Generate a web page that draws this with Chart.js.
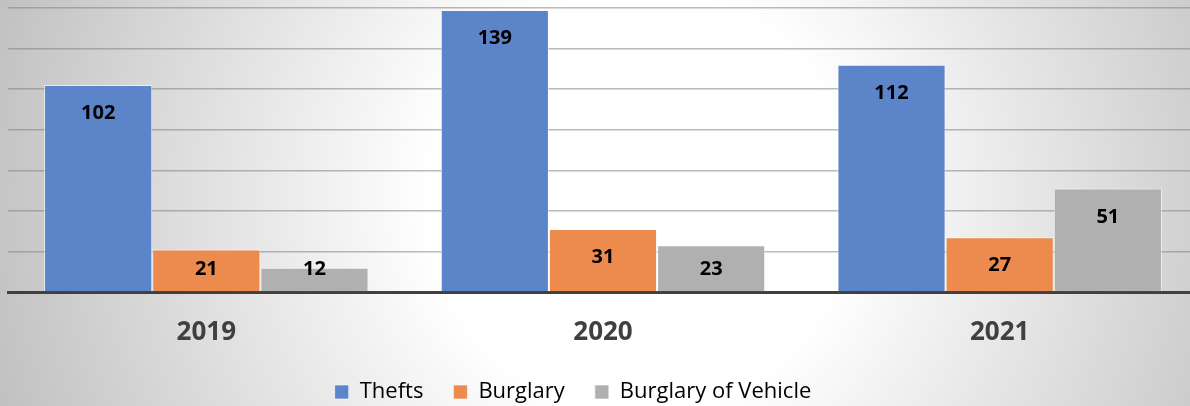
<!DOCTYPE html>
<html>
<head>
<meta charset="utf-8">
<script src="https://cdn.jsdelivr.net/npm/chart.js@4.4.0/dist/chart.umd.min.js"></script>
<style>
  html, body { margin: 0; padding: 0; background: #fff; overflow: hidden; }
  #wrap { width: 1198px; height: 406px; }
</style>
</head>
<body>
<div id="wrap"><canvas id="crimeChart"></canvas></div>
<script>
// chart values
const years = ['2019', '2020', '2021'];
const thefts = [102, 139, 112];
const burglary = [21, 31, 27];
const burglaryVehicle = [12, 23, 51];

// grey radial backdrop like the office chart style
const backdrop = {
    id: 'backdrop',
    beforeDraw(chart) {
        const ctx = chart.ctx;
        const g = ctx.createRadialGradient(640, 200, 0, 640, 200, 700);
        g.addColorStop(0, '#ffffff');
        g.addColorStop(0.3, '#ffffff');
        g.addColorStop(1, '#bdbdbd');
        ctx.save();
        ctx.fillStyle = g;
        ctx.fillRect(0, 0, chart.width, chart.height);
        ctx.restore();
    }
};

// legend sits a little left of centre in the original
const legendShift = {
    id: 'legendShift',
    afterLayout(chart) {
        chart.legend.left -= 30;
        chart.legend.right -= 30;
        chart.legend.top += 2;
        chart.legend.bottom += 2;
    }
};

// value labels inside the top of each bar
const valueLabels = {
    id: 'valueLabels',
    afterDatasetsDraw(chart) {
        const ctx = chart.ctx;
        ctx.save();
        ctx.font = 'bold 20px "Open Sans"';
        ctx.fillStyle = '#000';
        ctx.textAlign = 'center';
        ctx.textBaseline = 'middle';
        chart.data.datasets.forEach((ds, i) => {
            const meta = chart.getDatasetMeta(i);
            meta.data.forEach((bar, j) => {
                const y = Math.min(bar.y + 28.5, 269);
                ctx.fillText(ds.data[j], bar.x, y);
            });
        });
        ctx.restore();
    }
};

const ctx = document.getElementById('crimeChart').getContext('2d');
new Chart(ctx, {
    type: 'bar',
    data: {
        labels: years,
        datasets: [
            { label: 'Thefts', data: thefts, backgroundColor: '#5b84c9', borderColor: 'rgba(255,255,255,0.6)', borderWidth: 1 },
            { label: 'Burglary', data: burglary, backgroundColor: '#ec8b4d', borderColor: 'rgba(255,255,255,0.6)', borderWidth: 1 },
            { label: 'Burglary of Vehicle', data: burglaryVehicle, backgroundColor: '#b0b0b0', borderColor: 'rgba(255,255,255,0.6)', borderWidth: 1 }
        ]
    },
    options: {
        responsive: true,
        maintainAspectRatio: false,
        animation: false,
        layout: { padding: { top: 8, left: 8, right: 0, bottom: 0 } },
        datasets: {
            bar: { categoryPercentage: 0.818, barPercentage: 1 }
        },
        plugins: {
            legend: {
                position: 'bottom',
                maxHeight: 57,
                labels: {
                    boxWidth: 14,
                    boxHeight: 14,
                    padding: 30,
                    color: '#000',
                    font: { family: '"Open Sans"', size: 22 }
                }
            },
            tooltip: { enabled: false }
        },
        scales: {
            x: {
                grid: { display: false, drawTicks: false },
                border: { color: '#404040', width: 3 },
                ticks: {
                    padding: 25,
                    color: '#404040',
                    font: { family: '"Open Sans"', size: 26, weight: 'bold' }
                },
                afterFit(scale) { scale.height = 57; }
            },
            y: {
                min: 0,
                max: 140,
                ticks: { display: false, stepSize: 20 },
                grid: { color: 'rgba(130,130,130,0.55)', lineWidth: 1.5, drawTicks: false },
                border: { display: false },
                afterFit(scale) { scale.width = 0; }
            }
        }
    },
    plugins: [backdrop, legendShift, valueLabels]
});
</script>
</body>
</html>
